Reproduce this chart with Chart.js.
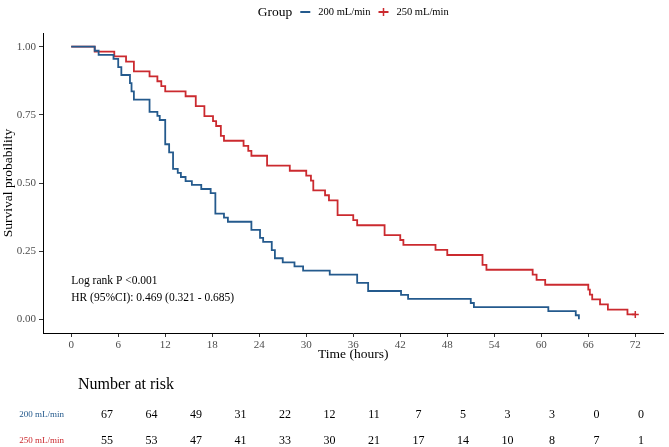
<!DOCTYPE html>
<html lang="en">
<head>
<meta charset="UTF-8">
<title>Survival by flow group</title>
<script src="https://cdn.jsdelivr.net/npm/chart.js"></script>
<style>
  html, body { margin: 0; padding: 0; background: #fff; }
</style>
</head>
<body>
<canvas id="km" width="669" height="447"></canvas>
<script>
// values
const groups = ['200 mL/min', '250 mL/min'];
const colors = ['#245a8d', '#cb2a2f'];
const timeTicks = [0, 6, 12, 18, 24, 30, 36, 42, 48, 54, 60, 66, 72];
const survTicks = [0, 0.25, 0.5, 0.75, 1];

const time200 = [0, 3.0, 3.5, 5.4, 6.0, 6.4, 7.5, 7.7, 8.0, 10.0, 11.0, 11.3, 12.0, 12.5, 13.0, 13.6, 14.0, 14.6, 15.4, 16.6,
  17.8, 18.4, 19.5, 20.0, 23.0, 24.1, 24.5, 25.6, 26.0, 27.0, 28.5, 29.6, 33.0, 36.5, 37.9, 42.1, 43.0, 51.0, 51.4, 60.9, 64.4, 64.8];
const surv200 = [1, 0.985, 0.970, 0.955, 0.925, 0.896, 0.866, 0.836, 0.806, 0.761, 0.746, 0.731, 0.642, 0.612, 0.552, 0.537, 0.522, 0.507, 0.493, 0.478,
  0.463, 0.388, 0.373, 0.358, 0.328, 0.299, 0.284, 0.254, 0.224, 0.209, 0.194, 0.179, 0.164, 0.134, 0.104, 0.090, 0.075, 0.060, 0.045, 0.030, 0.015, 0];

const time250 = [0, 3.0, 5.5, 7.0, 8.0, 10.0, 11.0, 11.5, 12.0, 14.6, 15.9, 17.0, 18.1, 18.5, 19.1, 19.5, 22.0, 22.6, 23.0, 25.0,
  27.9, 30.0, 30.6, 30.9, 32.4, 32.9, 34.0, 36.0, 36.5, 40.0, 42.0, 42.4, 46.5, 48.0, 52.5, 53.0, 58.9, 59.4, 60.5, 66.0,
  66.2, 66.5, 67.5, 68.5, 71.0, 72.0];
const surv250 = [1, 0.982, 0.964, 0.945, 0.909, 0.891, 0.873, 0.855, 0.836, 0.818, 0.782, 0.745, 0.727, 0.709, 0.673, 0.655, 0.636, 0.618, 0.600, 0.564,
  0.545, 0.527, 0.509, 0.473, 0.455, 0.436, 0.382, 0.364, 0.345, 0.309, 0.291, 0.273, 0.255, 0.236, 0.200, 0.182, 0.164, 0.145, 0.127, 0.109,
  0.091, 0.073, 0.055, 0.036, 0.018, 0.018];

const censorTime250 = [72];
const censorSurv250 = [0.018];

const risk200 = [67, 64, 49, 31, 22, 12, 11, 7, 5, 3, 3, 0, 0];
const risk250 = [55, 53, 47, 41, 33, 30, 21, 17, 14, 10, 8, 7, 1];

const stats = ['Log rank P <0.001', 'HR (95%CI): 0.469 (0.321 - 0.685)'];

const serif = '"Liberation Serif", "Times New Roman", serif';

function toPoints(xs, ys) {
    return xs.map((t, i) => ({ x: t, y: ys[i] }));
}

// legend, stats text and risk table drawn on top
const extras = {
    id: 'extras',
    afterDraw(chart) {
        const { ctx, scales: { x, y } } = chart;
        ctx.save();
        ctx.textBaseline = 'middle';

        // legend row
        const ly = 12;
        ctx.font = '13.5px ' + serif;
        const titleW = ctx.measureText('Group').width;
        ctx.font = '10.5px ' + serif;
        const w1 = ctx.measureText(groups[0]).width;
        const w2 = ctx.measureText(groups[1]).width;
        const sym = 10, gap = 8;
        const total = titleW + gap + sym + gap + w1 + gap + sym + gap + w2;
        let lx = (x.left + x.right) / 2 - total / 2;
        ctx.fillStyle = '#000';
        ctx.textAlign = 'left';
        ctx.font = '13.5px ' + serif;
        ctx.fillText('Group', lx, ly);
        lx += titleW + gap;
        ctx.lineWidth = 2;
        ctx.strokeStyle = colors[0];
        ctx.beginPath(); ctx.moveTo(lx, ly); ctx.lineTo(lx + sym, ly); ctx.stroke();
        lx += sym + gap;
        ctx.font = '10.5px ' + serif;
        ctx.fillText(groups[0], lx, ly);
        lx += w1 + gap;
        ctx.strokeStyle = colors[1];
        ctx.beginPath(); ctx.moveTo(lx, ly); ctx.lineTo(lx + sym, ly); ctx.stroke();
        ctx.lineWidth = 1.5;
        ctx.beginPath(); ctx.moveTo(lx + sym / 2, ly - 4); ctx.lineTo(lx + sym / 2, ly + 4); ctx.stroke();
        lx += sym + gap;
        ctx.fillText(groups[1], lx, ly);

        // stats text
        ctx.font = '11.5px ' + serif;
        ctx.fillStyle = '#000';
        ctx.fillText(stats[0], x.getPixelForValue(0), y.getPixelForValue(0.14));
        ctx.fillText(stats[1], x.getPixelForValue(0), y.getPixelForValue(0.08));

        // number at risk
        ctx.font = '16px ' + serif;
        ctx.fillText('Number at risk', 78, 385);
        const colX = t => 107 + t / 72 * 534;
        const rows = [[risk200, 415], [risk250, 441]];
        rows.forEach(([vals, ry], r) => {
            ctx.font = '9px ' + serif;
            ctx.textAlign = 'right';
            ctx.fillStyle = colors[r];
            ctx.fillText(groups[r], 64, ry);
            ctx.font = '12px ' + serif;
            ctx.textAlign = 'center';
            ctx.fillStyle = '#000';
            vals.forEach((v, i) => ctx.fillText(String(v), colX(timeTicks[i]), ry));
        });
        ctx.restore();
    }
};

const config = {
    type: 'line',
    data: {
        datasets: [{
            label: groups[0],
            data: toPoints(time200, surv200),
            borderColor: colors[0],
            borderWidth: 1.8,
            stepped: true,
            pointRadius: 0,
            fill: false
        }, {
            label: groups[1],
            data: toPoints(time250, surv250),
            borderColor: colors[1],
            borderWidth: 1.8,
            stepped: true,
            pointRadius: 0,
            fill: false
        }, {
            label: 'censor',
            data: toPoints(censorTime250, censorSurv250),
            showLine: false,
            pointStyle: 'cross',
            pointRadius: 3.5,
            pointBorderWidth: 1.5,
            borderColor: colors[1],
            pointBorderColor: colors[1]
        }]
    },
    options: {
        responsive: false,
        animation: false,
        layout: { padding: { top: 33, right: 1, bottom: 84, left: 0 } },
        plugins: {
            legend: { display: false },
            tooltip: { enabled: false }
        },
        scales: {
            x: {
                type: 'linear',
                min: -3.6,
                max: 75.6,
                afterFit(s) { s.height = 30; },
                afterBuildTicks(s) { s.ticks = timeTicks.map(v => ({ value: v })); },
                ticks: { color: '#4d4d4d', font: { family: serif, size: 11 }, padding: 2, maxRotation: 0 },
                grid: { drawOnChartArea: false, tickLength: 4, color: '#333' },
                border: { color: '#000', width: 1 },
                title: { display: true, text: 'Time (hours)', color: '#000', font: { family: serif, size: 13.5 }, padding: 0 }
            },
            y: {
                min: -0.05,
                max: 1.05,
                afterFit(s) { s.width = 43; },
                afterBuildTicks(s) { s.ticks = survTicks.map(v => ({ value: v })); },
                ticks: { callback: v => v.toFixed(2), color: '#4d4d4d', font: { family: serif, size: 11 }, padding: 3 },
                grid: { drawOnChartArea: false, tickLength: 4, color: '#333' },
                border: { color: '#000', width: 1 },
                title: { display: true, text: 'Survival probability', color: '#000', font: { family: serif, size: 13.5 }, padding: 0 }
            }
        }
    },
    plugins: [extras]
};

const ctx = document.getElementById('km').getContext('2d');
const kmChart = new Chart(ctx, config);
</script>
</body>
</html>
